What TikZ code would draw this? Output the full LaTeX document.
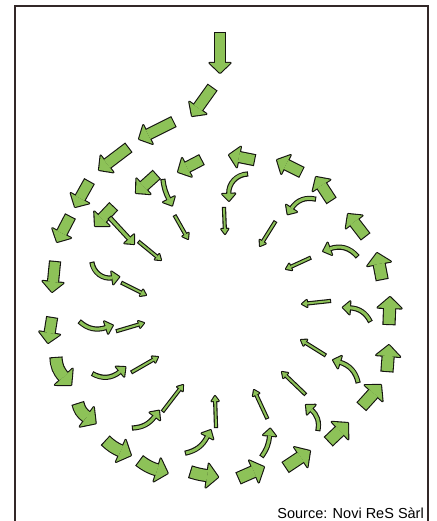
\documentclass[tikz,border=0pt]{standalone}
\usepackage{fontspec}
\usetikzlibrary{calc,decorations.markings}
\newfontfamily\srcfont{Liberation Sans}
\definecolor{leafgreen}{RGB}{141,194,88}
\definecolor{outline}{RGB}{20,20,15}
\definecolor{framegray}{RGB}{50,40,40}

\begin{document}
\begin{tikzpicture}[
  x=1pt, y=-1pt,
  frame/.style={line width=1.3pt, draw=framegray},
  flow/.style n args={3}{
    preaction={draw=outline, line width=#1+2.2pt, shorten <=-1.1pt},
    preaction={decorate, decoration={markings, mark=at position -0.05pt with
      {\filldraw[outline, line width=2.2pt, line join=round] (0,-#2) -- (#3,0) -- (0,#2) -- cycle;}}},
    draw=leafgreen, line width=#1,
    postaction={decorate, decoration={markings, mark=at position -0.05pt with
      {\fill[leafgreen] (0,-#2) -- (#3,0) -- (0,#2) -- cycle;}}}
  },
  bigflow/.style={flow={10pt}{10.5pt}{10pt}},
  fatflow/.style={flow={11pt}{12pt}{11pt}},
  curveflow/.style={flow={3pt}{6.5pt}{7pt}},
  thinflow/.style={flow={2pt}{3.5pt}{5pt}}
]
  \useasboundingbox (0,0) rectangle (436,521);
  \draw[frame] (15,521) -- (15,6) -- (428,6) -- (428,521);

  % spiral of block arrows
  \foreach \tx/\ty/\hx/\hy/\b in {
    220/33/220/73/0, 212/88/192/116/0, 173/122/139/139/0, 128/148/99/170/0,
    89/182/75/207/0, 70/217/57/242/0, 55/262/52/292/0, 52/318/48/343/0,
    365/236/348/214/0, 331/200/316/177/0, 301/172/277/160/0, 254/160/229/155/0,
    201/160/178/172/0, 156/175/136/193/0, 113/207/95/226/0}
    \draw[bigflow] (\tx,\ty) to[bend right=\b] ($(\hx,\hy)!10pt!(\tx,\ty)$);
  \foreach \tx/\ty/\hx/\hy/\b in {
    56/358/68/387/20, 78/404/93/426/20, 106/441/130/457/10, 140/461/167/475/10,
    191/472/218/478/5, 239/478/264/467/0, 286/467/310/451/0, 329/441/348/423/0,
    362/406/381/385/0, 387/371/389/345/0, 389/324/390/297/0, 382/279/377/253/0}
    \draw[fatflow] (\tx,\ty) to[bend right=\b] ($(\hx,\hy)!11pt!(\tx,\ty)$);

  % curved arrows
  \foreach \tx/\ty/\hx/\hy/\b in {
    247/174/224/199/45, 315/199/285/211/35, 357/256/323/247/35, 92/263/118/282/45,
    80/322/113/329/30, 93/374/127/371/35, 133/428/161/413/25, 186/453/213/432/25,
    262/456/272/429/15, 318/430/309/403/30, 358/382/335/357/30, 370/321/344/304/30,
    163/180/171/206/10, 110/218/134/244/0}
    \draw[curveflow] (\tx,\ty) to[bend right=\b] ($(\hx,\hy)!7pt!(\tx,\ty)$);

  % thin arrows
  \foreach \tx/\ty/\hx/\hy in {
    175/216/188/239, 224/208/225/234, 275/222/260/246, 310/258/286/269,
    330/301/302/304, 325/355/301/340, 305/394/282/372, 267/418/254/390,
    216/427/215/396, 163/411/183/385, 132/372/158/357, 117/331/144/323,
    122/283/146/295, 139/242/161/260}
    \draw[thinflow] (\tx,\ty) -- ($(\hx,\hy)!5pt!(\tx,\ty)$);

  \node[anchor=base east, inner sep=0pt, font=\srcfont\fontsize{14.5}{17}\selectfont]
    (source) at (424,518) {Source: Novi ReS Sàrl};
\end{tikzpicture}
\end{document}
